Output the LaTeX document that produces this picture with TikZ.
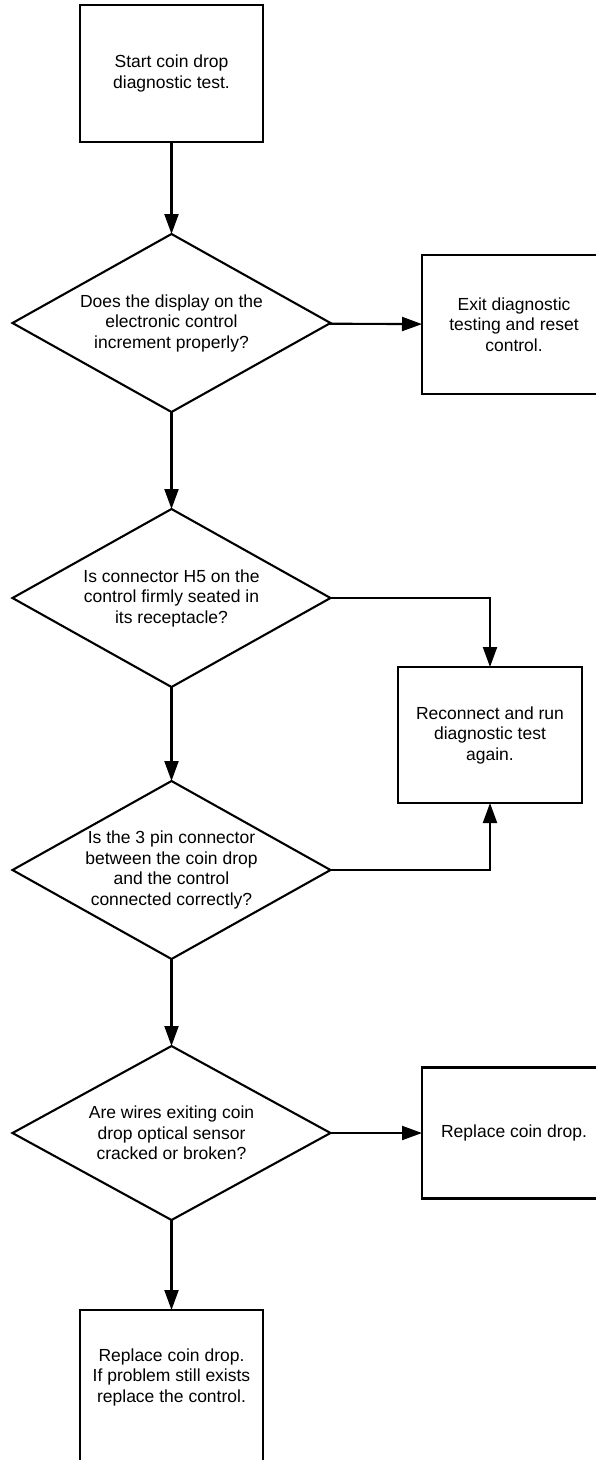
\documentclass[tikz,border=0pt]{standalone}
\usepackage{fontspec}
\setmainfont{Liberation Sans}
\usetikzlibrary{shapes.geometric,arrows.meta}
\begin{document}
\begin{tikzpicture}[x=1pt,y=-1pt,
  every node/.style={font=\fontsize{17.5}{20.5}\selectfont, align=center, outer sep=0pt},
  box/.style={draw, line width=2.1pt, rectangle, inner sep=0pt, minimum width=183pt, minimum height=137pt},
  dia/.style={draw, line width=2.1pt, diamond, aspect=1.79, inner xsep=-30pt, inner ysep=-20pt, minimum width=318pt, minimum height=178pt},
  conn/.style={line width=2.1pt, -{Triangle[length=20pt,width=14pt]}},
  wire/.style={line width=2.1pt}]
\useasboundingbox[fill=white] (0,0) rectangle (596,1460);
\node[box] (start) at (171.5,73.5) {Start coin drop\\diagnostic test.};
\node[dia] (d1) at (171.5,323) {Does the display on the\\electronic control\\increment properly?};
\node[box, minimum width=184pt, minimum height=139pt] (exit) at (514,324.5) {Exit diagnostic\\testing and reset\\control.};
\node[dia] (d2) at (171.5,598) {Is connector H5 on the\\control firmly seated in\\its receptacle?};
\node[box, minimum width=184pt, minimum height=136pt] (recon) at (490,735) {Reconnect and run\\diagnostic test\\again.};
\node[dia] (d3) at (171.5,870) {Is the 3 pin connector\\between the coin drop\\and the control\\connected correctly?};
\node[dia, minimum height=174pt] (d4) at (171.5,1133) {Are wires exiting coin\\drop optical sensor\\cracked or broken?};
\node[box, minimum width=184pt, minimum height=131pt] (repl) at (514,1133) {Replace coin drop.};
\node[box, anchor=north, minimum height=156pt] (final) at (171.5,1310) {Replace coin drop.\\If problem still exists\\replace the control.\\[5pt]\mbox{}};
\coordinate (c2) at (recon.north |- d2.east);
\coordinate (c3) at (recon.south |- d3.east);
\draw[conn] (start) -- (d1);
\draw[conn] (d1) -- (exit);
\draw[conn] (d1) -- (d2);
\draw[conn] (d2.east) -- (c2) -- (recon.north);
\draw[conn] (d2) -- (d3);
\draw[conn] (d3.east) -- (c3) -- (recon.south);
\draw[conn] (d3) -- (d4);
\draw[conn] (d4) -- (repl);
\draw[conn] (d4) -- (final);
\end{tikzpicture}
\end{document}
